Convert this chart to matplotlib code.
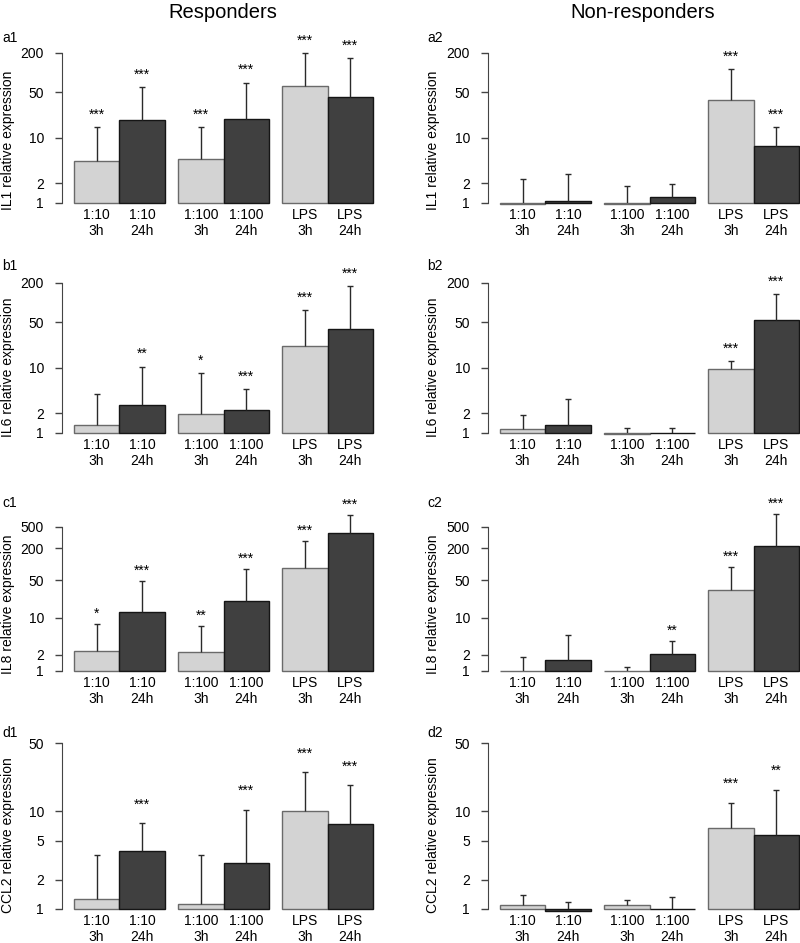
import numpy as np
import matplotlib
matplotlib.use('Agg')
import matplotlib.pyplot as plt
from matplotlib.ticker import NullLocator

plt.rcParams['font.family'] = 'Liberation Sans'

W, H = 800, 943

conditions = ['1:10\n3h', '1:10\n24h', '1:100\n3h', '1:100\n24h', 'LPS\n3h', 'LPS\n24h']
bar_colors = ['#d3d3d3', '#404040'] * 3
edge_colors = ['#6a6a6a', '#151515'] * 3

# IL1
il1_resp = [4.36, 19.0, 4.67, 19.4, 62.3, 42.7]
il1_resp_err = [14.8, 60.1, 14.5, 70.1, 200, 167]
il1_resp_sig = ['***', '***', '***', '***', '***', '***']
il1_non = [0.98, 1.07, 0.97, 1.25, 37.5, 7.48]
il1_non_err = [2.36, 2.82, 1.85, 1.96, 112, 14.8]
il1_non_sig = ['', '', '', '', '***', '***']

# IL6
il6_resp = [1.33, 2.72, 1.96, 2.25, 21.6, 39.8]
il6_resp_err = [3.92, 10.4, 8.32, 4.67, 76.1, 180]
il6_resp_sig = ['', '**', '*', '***', '***', '***']
il6_non = [1.15, 1.33, 0.98, 0.99, 9.59, 53.5]
il6_non_err = [1.89, 3.28, 1.18, 1.18, 12.7, 135]
il6_non_sig = ['', '', '', '', '***', '***']

# IL8
il8_resp = [2.37, 13.0, 2.24, 20.4, 86.1, 380]
il8_resp_err = [7.75, 48.3, 6.90, 80.1, 277, 852]
il8_resp_sig = ['*', '***', '**', '***', '***', '***']
il8_non = [1.01, 1.59, 1.0, 2.12, 32.8, 220]
il8_non_err = [1.86, 4.75, 1.21, 3.61, 87.3, 890]
il8_non_sig = ['', '', '', '**', '***', '***']

# CCL2
ccl2_resp = [1.27, 3.92, 1.125, 2.93, 10.0, 7.41]
ccl2_resp_err = [3.60, 7.59, 3.54, 10.4, 25.3, 18.4]
ccl2_resp_sig = ['', '***', '', '***', '***', '***']
ccl2_non = [1.09, 0.96, 1.09, 1.01, 6.75, 5.72]
ccl2_non_err = [1.39, 1.18, 1.24, 1.33, 12.2, 16.7]
ccl2_non_sig = ['', '', '', '', '***', '**']

# gene, y ticks, letter, responders, non-responders
rows = [
    ('IL1', [1, 2, 10, 50, 200], 'a',
     (il1_resp, il1_resp_err, il1_resp_sig), (il1_non, il1_non_err, il1_non_sig)),
    ('IL6', [1, 2, 10, 50, 200], 'b',
     (il6_resp, il6_resp_err, il6_resp_sig), (il6_non, il6_non_err, il6_non_sig)),
    ('IL8', [1, 2, 10, 50, 200, 500], 'c',
     (il8_resp, il8_resp_err, il8_resp_sig), (il8_non, il8_non_err, il8_non_sig)),
    ('CCL2', [1, 2, 5, 10, 50], 'd',
     (ccl2_resp, ccl2_resp_err, ccl2_resp_sig), (ccl2_non, ccl2_non_err, ccl2_non_sig)),
]

# layout in pixels: bottom (y=1), pixels per decade, top of axes, ylabel centre, panel label y
row_geom = [
    (203, 65.2, 30, 140, 38),
    (433, 65.2, 260, 367, 266),
    (671, 53.4, 505, 604, 503),
    (909, 97.7, 735, 835, 733),
]
col_left = [62, 488]
col_label_x = [8, 433]
col_tag_x = [2, 427]
ax_width = 311

x = np.arange(6) + 0.3 * (np.arange(6) // 2) + 0.5
cap = 0.066

fig = plt.figure(figsize=(W / 100, H / 100), dpi=100)
fig.patch.set_facecolor('white')

for (gene, ticks, letter, resp, non), (bot, ppd, top, ylab_y, tag_y) in zip(rows, row_geom):
    for col, (vals, errs, sig) in enumerate([resp, non]):
        ax = fig.add_axes([col_left[col] / W, 1 - bot / H, ax_width / W, (bot - top) / H])
        vals = np.array(vals)
        errs = np.array(errs)
        ax.set_yscale('log')
        ax.set_ylim(1, 10 ** ((bot - top) / ppd))
        ax.set_xlim(-0.265, 6.6)
        ax.bar(x, vals - 1, bottom=1, width=1, color=bar_colors, edgecolor=edge_colors,
               linewidth=1, clip_on=False, zorder=1)
        ax.vlines(x, vals, errs, color='#2a2a2a', lw=1, zorder=2)
        ax.hlines(errs, x - cap, x + cap, color='#2a2a2a', lw=1, zorder=2)
        for xi, e, s in zip(x, errs, sig):
            if s:
                ax.text(xi, e * 1.55, s, ha='center', va='center', fontsize=10)
        for sp in ['top', 'right', 'bottom']:
            ax.spines[sp].set_visible(False)
        ax.spines['left'].set_bounds(1, ticks[-1])
        ax.spines['left'].set_color('#444444')
        ax.set_yticks(ticks)
        ax.set_yticklabels([str(t) for t in ticks])
        ax.yaxis.set_minor_locator(NullLocator())
        ax.tick_params(axis='y', length=5, width=1, color='#444444', pad=8, labelsize=10)
        ax.set_xticks(x)
        ax.set_xticklabels(conditions, linespacing=1.2)
        ax.tick_params(axis='x', length=0, pad=3.5, labelsize=10)
        ax.patch.set_alpha(0)

        fig.text(col_label_x[col] / W, 1 - ylab_y / H, gene + ' relative expression',
                 rotation=90, ha='center', va='center', fontsize=10)
        fig.text(col_tag_x[col] / W, 1 - tag_y / H, letter + str(col + 1),
                 ha='left', va='center', fontsize=10)

fig.text(223 / W, 1 - 12 / H, 'Responders', ha='center', va='center', fontsize=14.5)
fig.text(643 / W, 1 - 12 / H, 'Non-responders', ha='center', va='center', fontsize=14.5)

fig.savefig('out.png', dpi=100)
